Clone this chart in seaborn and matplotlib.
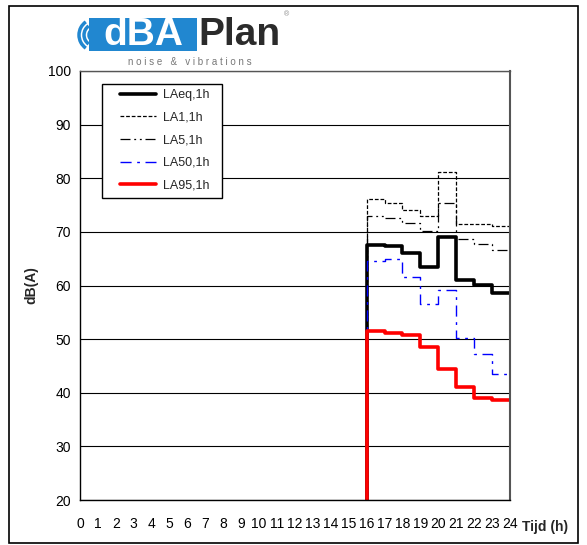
import pandas as pd
import seaborn as sns
import matplotlib.pyplot as plt
from matplotlib.patches import Rectangle, Arc

# hourly levels, hour 15 = no measurement (0)
hours = [15, 16, 17, 18, 19, 20, 21, 22, 23]
laeq = [0, 67.5, 67.3, 66.0, 63.5, 69.1, 61.0, 60.1, 58.6]
la1 = [0, 76.1, 75.3, 74.1, 72.9, 81.2, 71.4, 71.4, 71.1]
la5 = [0, 72.9, 72.5, 71.7, 70.2, 75.4, 68.6, 67.8, 66.7]
la50 = [0, 64.6, 64.9, 61.6, 56.5, 59.2, 50.3, 47.3, 43.5]
la95 = [0, 51.6, 51.1, 50.7, 48.6, 44.5, 41.1, 39.1, 38.6]

series = [
    ("LAeq,1h", laeq, "black", "-", 2.6),
    ("LA1,1h", la1, "black", (0, (3, 1.5)), 0.9),
    ("LA5,1h", la5, "black", (0, (8, 3, 1.5, 3, 1.5, 3)), 0.9),
    ("LA50,1h", la50, "#0000ff", (0, (8, 4, 2, 4)), 1.0),
    ("LA95,1h", la95, "#ff0000", "-", 2.6),
]

sns.set_theme(style="white")
plt.rcParams['font.family'] = ['Liberation Sans', 'DejaVu Sans']

W, H = 587, 545
fig = plt.figure(figsize=(W / 100, H / 100), dpi=100)

# background layer in pixel coords for frame + logo
bg = fig.add_axes([0, 0, 1, 1])
bg.set_xlim(0, W)
bg.set_ylim(H, 0)
bg.axis("off")
bg.add_patch(Rectangle((9, 6), 569, 537, fill=False, edgecolor="black", lw=1.2))
bg.add_patch(Rectangle((89, 18), 108, 33, facecolor="#2187d0", edgecolor="none"))
bg.text(143, 35, "dBA", color="white", fontsize=28, fontweight="bold",
        ha="center", va="center")
bg.text(198, 35, "Plan", color="#2b2b2b", fontsize=28, fontweight="bold",
        ha="left", va="center")
bg.text(286, 15, "®", color="#888888", fontsize=5, ha="center", va="center")
bg.text(190, 62, "n o i s e   &   v i b r a t i o n s", color="#777777",
        fontsize=7, ha="center", va="center")
for r in [6, 11, 16]:
    bg.add_patch(Arc((95, 35), 2 * r, 2 * r, theta1=125, theta2=235,
                     color="#2187d0", lw=2.5))

ax = fig.add_axes([80 / W, 45 / H, 430 / W, 429 / H])

for label, vals, color, ls, lw in series:
    df = pd.DataFrame({"hour": hours + [24], "dB": vals + [vals[-1]]})
    sns.lineplot(data=df, x="hour", y="dB", ax=ax, color=color, linestyle=ls,
                 lw=lw, drawstyle="steps-post", label=label)

ax.set_xlim(0, 24)
ax.set_ylim(20, 100)
ax.set_xticks(range(0, 25))
ax.set_yticks(range(20, 101, 10))
ax.grid(axis="y", color="black", lw=0.8)
ax.grid(axis="x", visible=False)
ax.tick_params(axis="both", direction="inout", length=7, width=1, colors="black",
               labelsize=10, pad=3)
ax.tick_params(axis="x", pad=9)
for s in ax.spines.values():
    s.set_color("black")
    s.set_linewidth(1)
ax.spines["right"].set_color("#555555")
ax.spines["right"].set_linewidth(1.5)
ax.spines["top"].set_color("#555555")

ax.set_xlabel("")
ax.set_ylabel("dB(A)", fontsize=10, fontweight="bold", labelpad=7)
ax.text(1.027, -0.063, "Tijd (h)", transform=ax.transAxes, ha="left", va="center",
        fontsize=10, fontweight="bold")

# legend: frame drawn separately so the inner padding matches
frame = Rectangle((102, 84), 120, 114, transform=bg.transData, facecolor="white",
                  edgecolor="black", lw=1, zorder=4.5, clip_on=False)
ax.add_patch(frame)
leg = ax.legend(loc="upper left", bbox_to_anchor=((120 - 80) / 430, (500 - 89) / 429),
                borderaxespad=0, borderpad=0, fontsize=9, frameon=False,
                handlelength=2.9, labelspacing=0.85, handletextpad=0.5)
leg.set_zorder(5)

fig.savefig("out.png", dpi=100)
